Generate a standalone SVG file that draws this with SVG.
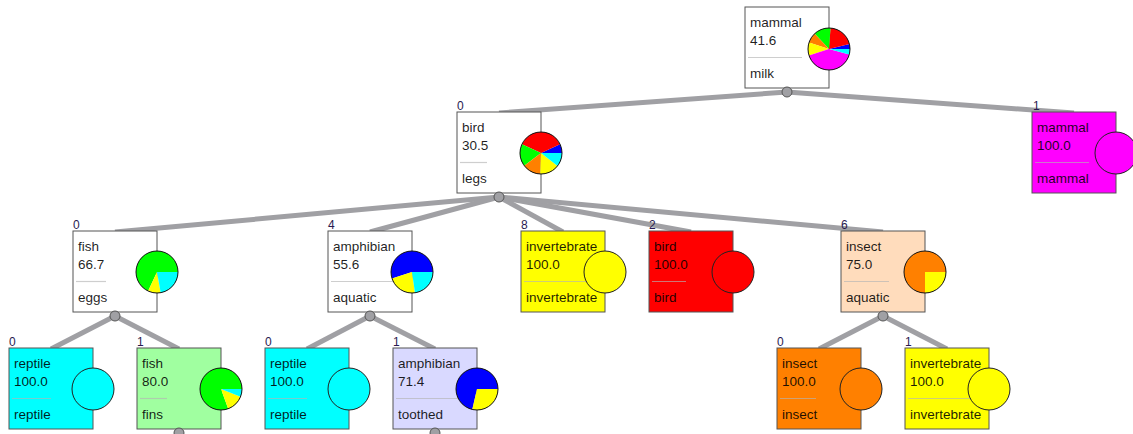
<svg xmlns="http://www.w3.org/2000/svg" width="1133" height="434" viewBox="0 0 1133 434">
<style>
.box{stroke:#555;stroke-width:1}
.t{font-family:"Liberation Sans",Arial,sans-serif;font-size:13.5px;fill:#000;fill-opacity:.88}
.lbl{font-family:"Liberation Sans",Arial,sans-serif;font-size:12px;fill:#2a1a50}
.sep{stroke:#b4b4b4;stroke-opacity:.65;stroke-width:1.2}
.ring{fill:none;stroke:#111;stroke-width:1}
.leaf{stroke:#222;stroke-width:1}
.edge{stroke:#a0a0a4;stroke-width:5;fill:none}
.knob{fill:#a0a0a4;stroke:#555;stroke-width:1}
</style>
<g id="connectors">
<line class="edge" x1="787" y1="92" x2="499" y2="113"/>
<line class="edge" x1="787" y1="92" x2="1074" y2="113"/>
<line class="edge" x1="499" y1="197" x2="115" y2="232"/>
<line class="edge" x1="499" y1="197" x2="370" y2="232"/>
<line class="edge" x1="499" y1="197" x2="563" y2="232"/>
<line class="edge" x1="499" y1="197" x2="691" y2="232"/>
<line class="edge" x1="499" y1="197" x2="883" y2="232"/>
<line class="edge" x1="115" y1="316" x2="51" y2="349"/>
<line class="edge" x1="115" y1="316" x2="179" y2="349"/>
<line class="edge" x1="370" y1="316" x2="307" y2="349"/>
<line class="edge" x1="370" y1="316" x2="435" y2="349"/>
<line class="edge" x1="883" y1="316" x2="819" y2="349"/>
<line class="edge" x1="883" y1="316" x2="947" y2="349"/>
</g>
<g id="n-root">
<rect class="box" x="745" y="7" width="84" height="81" fill="#fff"/>
<text class="t" x="750" y="26.5">mammal</text>
<text class="t" x="750" y="45">41.6</text>
<line class="sep" x1="748" y1="57.5" x2="802" y2="57.5"/>
<text class="t" x="750" y="78">milk</text>
<path fill="#0000ff" d="M829 49 L850 49 A21 21 0 0 0 849.38 43.92 Z"/>
<path fill="#ff0000" d="M829 49 L849.38 43.92 A21 21 0 0 0 830.47 28.05 Z"/>
<path fill="#00ff00" d="M829 49 L830.47 28.05 A21 21 0 0 0 814.68 33.64 Z"/>
<path fill="#ff8000" d="M829 49 L814.68 33.64 A21 21 0 0 0 809.03 42.51 Z"/>
<path fill="#ffff00" d="M829 49 L809.03 42.51 A21 21 0 0 0 809.03 55.49 Z"/>
<path fill="#ff00ff" d="M829 49 L809.03 55.49 A21 21 0 0 0 849.28 54.43 Z"/>
<path fill="#00ffff" d="M829 49 L849.28 54.43 A21 21 0 0 0 850 49 Z"/>
<circle class="ring" cx="829" cy="49" r="21"/>
<circle class="knob" cx="787" cy="92" r="5"/>
</g>
<g id="n-bird">
<text class="lbl" x="457" y="110">0</text>
<rect class="box" x="457" y="112" width="84" height="81" fill="#fff"/>
<text class="t" x="462" y="131.5">bird</text>
<text class="t" x="462" y="150">30.5</text>
<line class="sep" x1="460" y1="162.5" x2="487" y2="162.5"/>
<text class="t" x="462" y="183">legs</text>
<path fill="#0000ff" d="M541 153 L562 153 A21 21 0 0 0 560.03 144.13 Z"/>
<path fill="#ff0000" d="M541 153 L560.03 144.13 A21 21 0 0 0 521.97 144.13 Z"/>
<path fill="#00ff00" d="M541 153 L521.97 144.13 A21 21 0 0 0 524.23 165.64 Z"/>
<path fill="#ff8000" d="M541 153 L524.23 165.64 A21 21 0 0 0 540.27 173.99 Z"/>
<path fill="#ffff00" d="M541 153 L540.27 173.99 A21 21 0 0 0 557.55 165.93 Z"/>
<path fill="#00ffff" d="M541 153 L557.55 165.93 A21 21 0 0 0 562 153 Z"/>
<circle class="ring" cx="541" cy="153" r="21"/>
<circle class="knob" cx="499" cy="197" r="5"/>
</g>
<g id="n-mammal-leaf">
<text class="lbl" x="1033" y="110">1</text>
<rect class="box" x="1032" y="112" width="84" height="81" fill="#ff00ff"/>
<text class="t" x="1037" y="131.5">mammal</text>
<text class="t" x="1037" y="150">100.0</text>
<line class="sep" x1="1035" y1="162.5" x2="1089" y2="162.5"/>
<text class="t" x="1037" y="183">mammal</text>
<circle class="leaf" cx="1116" cy="153" r="21" fill="#ff00ff"/>
</g>
<g id="n-fish">
<text class="lbl" x="73" y="229">0</text>
<rect class="box" x="73" y="231" width="84" height="81" fill="#fff"/>
<text class="t" x="78" y="250.5">fish</text>
<text class="t" x="78" y="269">66.7</text>
<line class="sep" x1="76" y1="281.5" x2="106" y2="281.5"/>
<text class="t" x="78" y="302">eggs</text>
<path fill="#00ff00" d="M157 272 L178 272 A21 21 0 1 0 148.13 291.03 Z"/>
<path fill="#ffff00" d="M157 272 L148.13 291.03 A21 21 0 0 0 160.65 292.68 Z"/>
<path fill="#00ffff" d="M157 272 L160.65 292.68 A21 21 0 0 0 178 272 Z"/>
<circle class="ring" cx="157" cy="272" r="21"/>
<circle class="knob" cx="115" cy="316" r="5"/>
</g>
<g id="n-amphibian">
<text class="lbl" x="328" y="229">4</text>
<rect class="box" x="328" y="231" width="84" height="81" fill="#fff"/>
<text class="t" x="333" y="250.5">amphibian</text>
<text class="t" x="333" y="269">55.6</text>
<line class="sep" x1="331" y1="281.5" x2="395" y2="281.5"/>
<text class="t" x="333" y="302">aquatic</text>
<path fill="#0000ff" d="M412 272 L433 272 A21 21 0 1 0 392.03 278.49 Z"/>
<path fill="#ffff00" d="M412 272 L392.03 278.49 A21 21 0 0 0 414.92 292.8 Z"/>
<path fill="#00ffff" d="M412 272 L414.92 292.8 A21 21 0 0 0 433 272 Z"/>
<circle class="ring" cx="412" cy="272" r="21"/>
<circle class="knob" cx="370" cy="316" r="5"/>
</g>
<g id="n-invertebrate-leaf">
<text class="lbl" x="521" y="229">8</text>
<rect class="box" x="521" y="231" width="84" height="81" fill="#ffff00"/>
<text class="t" x="526" y="250.5">invertebrate</text>
<text class="t" x="526" y="269">100.0</text>
<line class="sep" x1="524" y1="281.5" x2="597" y2="281.5"/>
<text class="t" x="526" y="302">invertebrate</text>
<circle class="leaf" cx="605" cy="272" r="21" fill="#ffff00"/>
</g>
<g id="n-bird-leaf">
<text class="lbl" x="649" y="229">2</text>
<rect class="box" x="649" y="231" width="84" height="81" fill="#ff0000"/>
<text class="t" x="654" y="250.5">bird</text>
<text class="t" x="654" y="269">100.0</text>
<line class="sep" x1="652" y1="281.5" x2="686" y2="281.5"/>
<text class="t" x="654" y="302">bird</text>
<circle class="leaf" cx="733" cy="272" r="21" fill="#ff0000"/>
</g>
<g id="n-insect">
<text class="lbl" x="841" y="229">6</text>
<rect class="box" x="841" y="231" width="84" height="81" fill="#ffdcbc"/>
<text class="t" x="846" y="250.5">insect</text>
<text class="t" x="846" y="269">75.0</text>
<line class="sep" x1="844" y1="281.5" x2="889" y2="281.5"/>
<text class="t" x="846" y="302">aquatic</text>
<path fill="#ff8000" d="M925 272 L946 272 A21 21 0 1 0 925 293 Z"/>
<path fill="#ffff00" d="M925 272 L925 293 A21 21 0 0 0 946 272 Z"/>
<circle class="ring" cx="925" cy="272" r="21"/>
<circle class="knob" cx="883" cy="316" r="5"/>
</g>
<g id="n-reptile-leaf-1">
<text class="lbl" x="9" y="346">0</text>
<rect class="box" x="9" y="348" width="84" height="81" fill="#00ffff"/>
<text class="t" x="14" y="367.5">reptile</text>
<text class="t" x="14" y="386">100.0</text>
<line class="sep" x1="12" y1="398.5" x2="51" y2="398.5"/>
<text class="t" x="14" y="419">reptile</text>
<circle class="leaf" cx="93" cy="389" r="21" fill="#00ffff"/>
</g>
<g id="n-fish-leaf">
<text class="lbl" x="137" y="346">1</text>
<rect class="box" x="137" y="348" width="84" height="81" fill="#a0ffa0"/>
<text class="t" x="142" y="367.5">fish</text>
<text class="t" x="142" y="386">80.0</text>
<line class="sep" x1="140" y1="398.5" x2="167" y2="398.5"/>
<text class="t" x="142" y="419">fins</text>
<path fill="#00ff00" d="M221 389 L242 389 A21 21 0 1 0 228.18 408.73 Z"/>
<path fill="#ffff00" d="M221 389 L228.18 408.73 A21 21 0 0 0 240.47 396.87 Z"/>
<path fill="#00ffff" d="M221 389 L240.47 396.87 A21 21 0 0 0 242 389 Z"/>
<circle class="ring" cx="221" cy="389" r="21"/>
<circle class="knob" cx="179" cy="433" r="5"/>
</g>
<g id="n-reptile-leaf-2">
<text class="lbl" x="265" y="346">0</text>
<rect class="box" x="265" y="348" width="84" height="81" fill="#00ffff"/>
<text class="t" x="270" y="367.5">reptile</text>
<text class="t" x="270" y="386">100.0</text>
<line class="sep" x1="268" y1="398.5" x2="307" y2="398.5"/>
<text class="t" x="270" y="419">reptile</text>
<circle class="leaf" cx="349" cy="389" r="21" fill="#00ffff"/>
</g>
<g id="n-amphibian-leaf">
<text class="lbl" x="393" y="346">1</text>
<rect class="box" x="393" y="348" width="84" height="81" fill="#d9d9ff"/>
<text class="t" x="398" y="367.5">amphibian</text>
<text class="t" x="398" y="386">71.4</text>
<line class="sep" x1="396" y1="398.5" x2="460" y2="398.5"/>
<text class="t" x="398" y="419">toothed</text>
<path fill="#0000ff" d="M477 389 L498 389 A21 21 0 1 0 472.28 409.46 Z"/>
<path fill="#ffff00" d="M477 389 L472.28 409.46 A21 21 0 0 0 498 389 Z"/>
<circle class="ring" cx="477" cy="389" r="21"/>
<circle class="knob" cx="435" cy="433" r="5"/>
</g>
<g id="n-insect-leaf">
<text class="lbl" x="777" y="346">0</text>
<rect class="box" x="777" y="348" width="84" height="81" fill="#ff8000"/>
<text class="t" x="782" y="367.5">insect</text>
<text class="t" x="782" y="386">100.0</text>
<line class="sep" x1="780" y1="398.5" x2="816" y2="398.5"/>
<text class="t" x="782" y="419">insect</text>
<circle class="leaf" cx="861" cy="389" r="21" fill="#ff8000"/>
</g>
<g id="n-invertebrate-leaf-2">
<text class="lbl" x="905" y="346">1</text>
<rect class="box" x="905" y="348" width="84" height="81" fill="#ffff00"/>
<text class="t" x="910" y="367.5">invertebrate</text>
<text class="t" x="910" y="386">100.0</text>
<line class="sep" x1="908" y1="398.5" x2="981" y2="398.5"/>
<text class="t" x="910" y="419">invertebrate</text>
<circle class="leaf" cx="989" cy="389" r="21" fill="#ffff00"/>
</g>
</svg>
